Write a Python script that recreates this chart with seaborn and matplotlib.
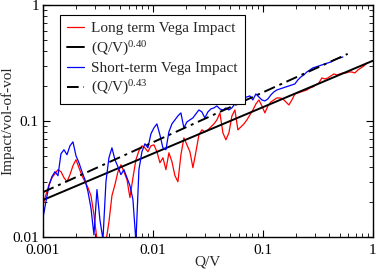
import numpy as np
import pandas as pd
import seaborn as sns
import matplotlib.pyplot as plt
from matplotlib.ticker import FuncFormatter, NullFormatter, LogLocator

# long term vega impact (red), sampled evenly in log(Q/V) from 0.001 to ~0.88
red_x_start, red_x_end = 0.001, 0.882
red_y = [0.0189, 0.0232, 0.0282, 0.0324, 0.0351, 0.0380, 0.0365, 0.0324, 0.0299, 0.0344,
         0.0411, 0.0463, 0.0395, 0.0337, 0.0299, 0.0266, 0.0227, 0.0155, 0.0095, 0.0074,
         0.0077, 0.0091, 0.0135, 0.0227, 0.0282, 0.0365, 0.0419, 0.0365, 0.0312, 0.0218,
         0.0324, 0.0463, 0.0553, 0.0610, 0.0586, 0.0542, 0.0610, 0.0622, 0.0542, 0.0436,
         0.0481, 0.0380, 0.0531, 0.0445, 0.0337, 0.0299, 0.0511, 0.0714, 0.0622, 0.0542,
         0.0395, 0.0542, 0.0758, 0.0837, 0.0804, 0.0837, 0.0888, 0.0942, 0.1020, 0.1172,
         0.0789, 0.0687, 0.0789, 0.1104, 0.1243, 0.0837, 0.0888, 0.0942, 0.1020, 0.1126,
         0.1243, 0.1400, 0.1516, 0.1346, 0.1172, 0.1346, 0.1457, 0.1516, 0.1577, 0.1577,
         0.1546, 0.1457, 0.1373, 0.1516, 0.1708, 0.1742, 0.1777, 0.1812, 0.1848, 0.1923,
         0.1962, 0.2041, 0.2124, 0.2345, 0.2299, 0.2345, 0.2440, 0.2539, 0.2489, 0.2539,
         0.2589, 0.2589, 0.2641, 0.2641, 0.2589, 0.2748, 0.2860, 0.2975, 0.3158]

# short term vega impact (blue), from 0.001 to ~0.53
blue_x_start, blue_x_end = 0.001, 0.533
blue_y = [0.0146, 0.0202, 0.0277, 0.0331, 0.0365, 0.0337, 0.0521, 0.0564, 0.0511, 0.0610,
          0.0660, 0.0501, 0.0436, 0.0365, 0.0312, 0.0246, 0.0178, 0.0104, 0.0256, 0.0140,
          0.0095, 0.0299, 0.0481, 0.0586, 0.0463, 0.0403, 0.0344, 0.0380, 0.0324, 0.0277,
          0.0210, 0.0091, 0.0380, 0.0542, 0.0635, 0.0586, 0.0773, 0.0871, 0.0942, 0.0758,
          0.0586, 0.0564, 0.0804, 0.0942, 0.1020, 0.1104, 0.1172, 0.0871, 0.0980, 0.1020,
          0.1061, 0.1149, 0.1243, 0.1195, 0.1061, 0.1195, 0.1268, 0.1294, 0.1346, 0.1268,
          0.1243, 0.1294, 0.1243, 0.1294, 0.1400, 0.1516, 0.1546, 0.1577, 0.1609, 0.1641,
          0.1516, 0.1708, 0.1609, 0.1516, 0.1486, 0.1546, 0.1674, 0.1777, 0.1848, 0.1885,
          0.1923, 0.1962, 0.2001, 0.2041, 0.2082, 0.2254, 0.2392, 0.2489, 0.2641, 0.2748,
          0.2860, 0.2917, 0.2975, 0.3035, 0.3096, 0.3158, 0.3221, 0.3351, 0.3419, 0.3487,
          0.3557]

# power-law fits, end points
fit40_x = [0.001, 1.0]
fit40_y = [0.0208, 0.33]
fit43_x = [0.001, 0.59]
fit43_y = [0.0243, 0.378]

labels = ["Long term Vega Impact", "(Q/V)$^{0.40}$",
          "Short-term Vega Impact", "(Q/V)$^{0.43}$"]

red = pd.DataFrame({"x": np.geomspace(red_x_start, red_x_end, len(red_y)), "y": red_y})
blue = pd.DataFrame({"x": np.geomspace(blue_x_start, blue_x_end, len(blue_y)), "y": blue_y})

sns.set_style("ticks")
plt.rcParams["font.family"] = ["Liberation Serif", "DejaVu Serif"]
plt.rcParams["mathtext.fontset"] = "custom"
plt.rcParams["mathtext.rm"] = "Liberation Serif"
plt.rcParams["mathtext.it"] = "Liberation Serif:italic"

fig = plt.figure(figsize=(3.77, 2.72), dpi=100)
ax = fig.add_axes([0.114, 0.129, 0.875, 0.853])

sns.lineplot(data=red, x="x", y="y", color="#ff0000", lw=0.9, sort=False,
             estimator=None, label=labels[0], ax=ax)
sns.lineplot(x=fit40_x, y=fit40_y, color="black", lw=1.4, sort=False,
             estimator=None, label=labels[1], ax=ax)
sns.lineplot(data=blue, x="x", y="y", color="#0000ff", lw=0.9, sort=False,
             estimator=None, label=labels[2], ax=ax)
sns.lineplot(x=fit43_x, y=fit43_y, color="black", lw=1.4, sort=False,
             estimator=None, label=labels[3], ax=ax)
ax.lines[3].set_dashes([6, 2.5, 1.5, 2.5])

ax.set(xscale="log", yscale="log")
ax.set_xlim(0.001, 1)
ax.set_ylim(0.01, 1)
fmt = FuncFormatter(lambda v, p: "{:g}".format(v))
for axis in (ax.xaxis, ax.yaxis):
    axis.set_major_locator(LogLocator(base=10))
    axis.set_minor_locator(LogLocator(base=10, subs=np.arange(2, 10)))
    axis.set_major_formatter(fmt)
    axis.set_minor_formatter(NullFormatter())

ax.tick_params(which="both", direction="in", top=True, right=True, colors="black",
               labelsize=11)
ax.tick_params(which="major", length=5, width=0.8)
ax.tick_params(which="minor", length=3, width=0.6)
ax.tick_params(axis="x", which="major", pad=5)
ax.tick_params(axis="y", which="major", pad=3)
for s in ax.spines.values():
    s.set_visible(True)
    s.set_color("black")
    s.set_linewidth(1.0)

ax.set_xlabel("Q/V", fontsize=11)
ax.set_ylabel("Impact/vol-of-vol", fontsize=11)
ax.xaxis.set_label_coords(0.5, -0.082)
ax.yaxis.set_label_coords(-0.088, 0.5)

leg = ax.legend(loc="upper left", bbox_to_anchor=(0.052, 0.957), borderaxespad=0,
                fontsize=11, frameon=True, fancybox=False, framealpha=1,
                handlelength=1.1, handletextpad=0.5, labelspacing=0.25,
                borderpad=0.45)
leg.get_frame().set_edgecolor("black")
leg.get_frame().set_linewidth(0.8)

fig.savefig("out.png", dpi=100)
